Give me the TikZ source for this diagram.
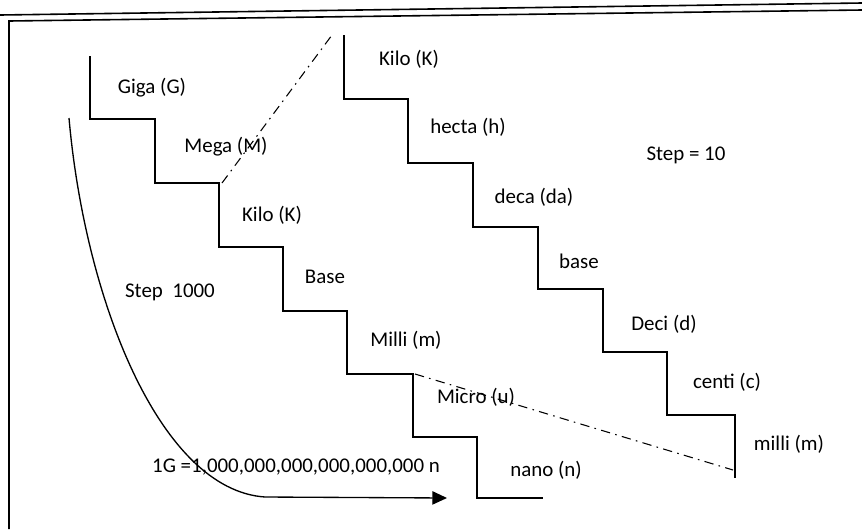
\documentclass[tikz,border=0pt]{standalone}
\usepackage{fontspec}
\setmainfont{Carlito}
\usetikzlibrary{arrows.meta}

\begin{document}
\begin{tikzpicture}[x=0.75pt, y=-0.75pt, font=\fontsize{15.7}{18}\selectfont]
    % Define colours
    \definecolor{lineColour}{HTML}{000000}

    % Define styles
    \tikzset{stair/.style={draw=lineColour, line width=1.2pt},
      guide/.style={draw=lineColour, line width=0.8pt, dash pattern=on 7pt off 4pt on 1.2pt off 4pt},
      prefixText/.style={inner sep=0pt, anchor=center, text=lineColour}}

  \useasboundingbox (0,0) rectangle (862,529);

  % Draw the frame
  \draw[stair] (0,15) -- (862,3);
  \draw[stair] (9,529) -- (9,21) -- (862,10);

  % Define the corners used by the guide lines and the arrow
  \coordinate (megaCorner) at (222,183);
  \coordinate (kiloTop) at (332,35);
  \coordinate (microCorner) at (415,374);
  \coordinate (milliEnd) at (733,470);
  \coordinate (curveTop) at (69,118);
  \coordinate (arrowEnd) at (447,498);

  % Draw the Step 1000 staircase
  \draw[stair] (90,56) |- (155,119) |- (219,183) |- (283,247) |- (347,311)
    |- (413,374) |- (477,437) |- (543,498);

  % Draw the Step 10 staircase
  \draw[stair] (344,35) |- (408,99) |- (473,163) |- (538,227) |- (603,289)
    |- (667,352) |- (735,415) -- (735,478);

  % Draw the dash-dot guide lines
  \draw[guide] (megaCorner) -- (kiloTop);
  \draw[guide] (microCorner) -- (milliEnd);

  % Draw the curved arrow
  \draw[stair, line width=1pt, -{Triangle[length=11pt, width=10pt]}] (curveTop)
    .. controls (85,300) and (160,490) .. (265,497) -- (arrowEnd);

  % Label the prefixes
  \foreach \name/\pos/\txt in {gigaLabel/{152,88}/Giga (G), megaLabel/{226,147}/Mega (M),
      kiloLabel/{272,215}/Kilo (K), baseLabel/{325,277}/Base, milliLabel/{406,340}/Milli (m),
      microLabel/{476,397}/Micro (u), nanoLabel/{546,470}/nano (n),
      kiloTenLabel/{409,59}/Kilo (K), hectaLabel/{468,127}/hecta (h), decaLabel/{534,197}/deca (da),
      baseTenLabel/{579,261}/base, deciLabel/{664,324}/Deci (d), centiLabel/{727,382}/centi (c),
      milliTenLabel/{789,444}/milli (m)}
    \node[prefixText] (\name) at (\pos) {\txt};

  % Label the step sizes
  \node[prefixText] (stepThousand) at (170,292) {Step~~1000};
  \node[prefixText] (stepTen) at (686,155) {Step = 10};
  \node[prefixText] (gigaValue) at (296,467) {1G =1,000,000,000,000,000,000 n};

\end{tikzpicture}
\end{document}
